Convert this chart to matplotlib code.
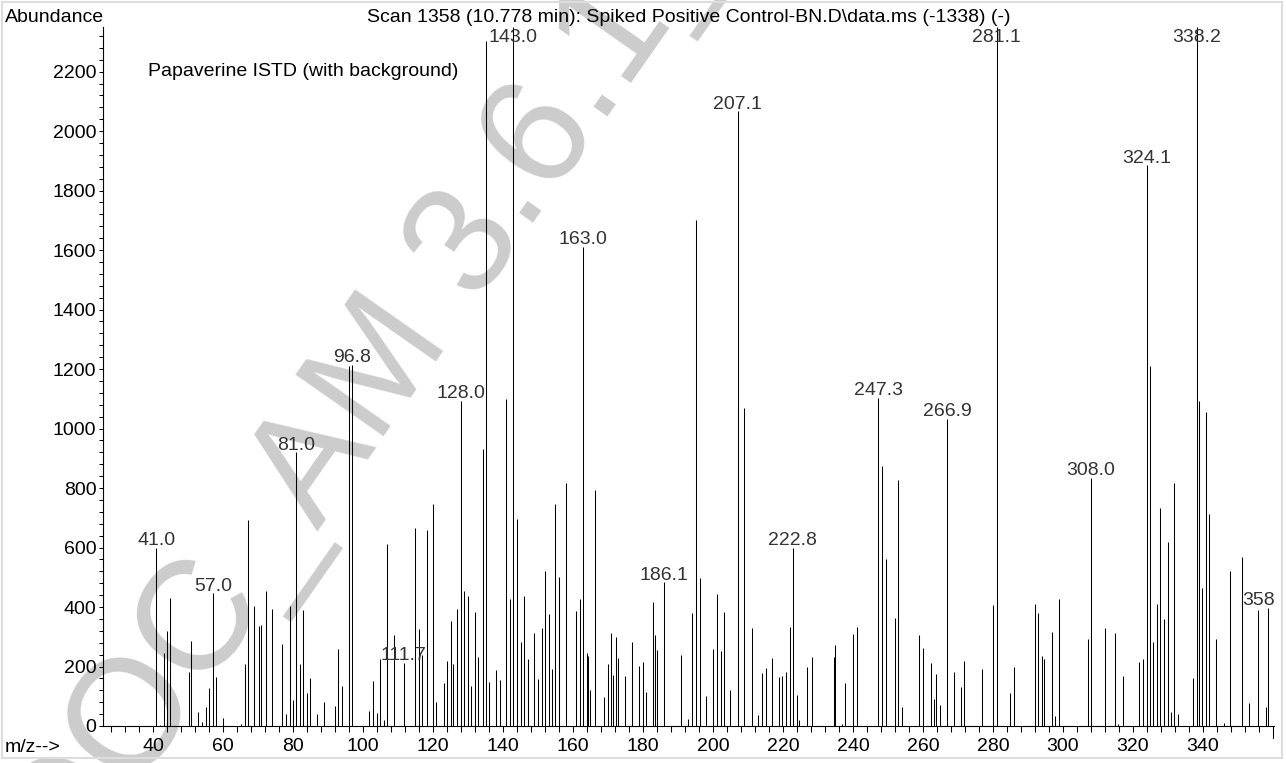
import matplotlib.pyplot as plt
from matplotlib.patches import Rectangle
from matplotlib.ticker import MultipleLocator

plt.rcParams['font.family'] = ['Liberation Sans', 'DejaVu Sans']

# spectrum (m/z, abundance)
mz = [41.0, 42.0, 43.1, 44.1, 44.9, 50.3, 51.0, 53.0, 54.0, 55.1, 56.1, 57.1, 58.1, 60.0,
      65.1, 66.2, 67.1, 69.0, 70.2, 71.0, 72.3, 74.1, 77.0, 77.9, 79.1, 80.0, 81.0, 82.0,
      82.9, 83.9, 85.0, 86.9, 88.9, 92.1, 93.0, 94.1, 96.1, 96.8, 101.8, 102.9, 103.9, 104.9,
      106.1, 107.0, 109.0, 111.7, 115.0, 115.9, 117.0, 118.2, 120.0, 121.0, 123.1, 124.0,
      125.2, 125.8, 126.8, 128.0, 129.0, 130.0, 131.0, 132.0, 133.0, 134.3, 135.1, 136.1,
      137.9, 139.2, 140.8, 141.9, 143.0, 143.9, 145.1, 146.0, 147.1, 148.9, 150.0, 151.1,
      151.9, 153.1, 154.0, 154.9, 155.9, 157.9, 161.0, 162.0, 163.0, 163.9, 164.4, 165.0,
      166.2, 169.0, 170.1, 170.8, 171.4, 172.2, 172.9, 174.9, 177.0, 179.0, 179.9, 181.0,
      182.9, 183.6, 184.1, 186.1, 190.9, 192.9, 193.9, 195.1, 196.3, 198.0, 199.9, 201.1,
      202.2, 203.1, 204.9, 207.1, 209.0, 211.1, 213.0, 214.1, 215.1, 217.0, 219.0, 219.8,
      221.0, 222.1, 222.8, 223.9, 224.7, 226.8, 228.2, 234.6, 235.0, 236.8, 237.7, 240.1,
      241.1, 247.3, 248.2, 249.6, 252.0, 252.9, 254.0, 259.0, 260.1, 262.4, 263.1, 263.7,
      265.0, 266.9, 268.9, 271.0, 271.8, 277.0, 279.9, 281.1, 285.0, 286.0, 292.1, 293.0,
      294.0, 294.5, 297.0, 297.8, 299.0, 307.1, 308.0, 312.0, 314.8, 315.8, 317.1, 321.8,
      322.8, 324.1, 324.9, 325.9, 326.9, 327.8, 328.8, 330.1, 330.9, 331.7, 333.0, 337.1,
      338.2, 338.8, 339.8, 340.9, 341.8, 343.9, 346.0, 347.7, 351.1, 353.2, 355.9, 358.0,
      358.7]
abundance = [600, 5, 244, 321, 430, 180, 285, 48, 13, 64, 128, 446, 165, 26,
             7, 210, 693, 405, 336, 340, 455, 393, 276, 40, 404, 87, 920, 210,
             390, 112, 160, 40, 80, 67, 258, 133, 1210, 1215, 50, 150, 44, 224,
             20, 613, 305, 213, 665, 325, 240, 659, 747, 80, 146, 220,
             353, 208, 395, 1094, 455, 438, 133, 384, 233, 932, 2302, 147,
             188, 154, 1100, 427, 2350, 696, 281, 438, 225, 312, 158, 328,
             521, 377, 192, 747, 501, 817, 388, 428, 1611, 247, 237, 121,
             793, 96, 208, 312, 171, 300, 230, 168, 284, 202, 216, 113,
             416, 306, 256, 483, 239, 22, 379, 1702, 497, 101, 260, 444,
             252, 384, 121, 2066, 1068, 328, 37, 177, 194, 230, 166, 168,
             180, 334, 598, 104, 20, 200, 233, 231, 272, 7, 146, 309,
             334, 1102, 875, 561, 362, 827, 63, 306, 261, 213, 90, 175,
             71, 1032, 183, 130, 220, 193, 407, 2350, 110, 197, 410, 379,
             235, 224, 317, 34, 427, 293, 835, 331, 312, 7, 168, 216,
             226, 1885, 1211, 283, 411, 734, 360, 619, 48, 818, 40, 160,
             2350, 1091, 463, 1055, 713, 291, 11, 521, 567, 78, 390, 63,
             396]

peak_labels = ["41.0", "57.0", "81.0", "96.8", "111.7", "128.0", "143.0", "163.0", "186.1",
               "207.1", "222.8", "247.3", "266.9", "281.1", "308.0", "324.1", "338.2"]
edge_label = "358"

x_min, x_max = 25.8, 360.2
y_max = 2350
FS = 14


def nearest_peak(x):
    i = min(range(len(mz)), key=lambda k: abs(mz[k] - x))
    return mz[i], abundance[i]


fig = plt.figure(figsize=(12.86, 7.63), dpi=100)
ax = fig.add_axes([0.0803, 0.0485, 0.9100, 0.9161])
ax.set_facecolor('none')

# watermark behind everything
fig.text(0.0544, -0.1599, 'DOC_AM 3.6.1_', rotation=55, rotation_mode='anchor',
         ha='left', va='baseline', fontsize=112, color='#cccccc', zorder=-1)

ax.vlines(mz, 0, abundance, color='black', lw=0.75)

for lab in peak_labels:
    x, y = nearest_peak(float(lab))
    ax.annotate(lab, (x, min(y, y_max - 60)), xytext=(0, 2), textcoords='offset points',
                ha='center', va='baseline', fontsize=FS, color='#333333')
ax.annotate(edge_label, (x_max, nearest_peak(358.7)[1]), xytext=(1, 2), textcoords='offset points',
            ha='right', va='baseline', fontsize=FS, color='#333333')

ax.set_xlim(x_min, x_max)
ax.set_ylim(0, y_max)
ax.spines['top'].set_visible(False)
ax.spines['right'].set_visible(False)
ax.spines['left'].set_linewidth(0.8)
ax.spines['bottom'].set_linewidth(0.8)

ax.set_xticks(list(range(40, 341, 20)))
ax.xaxis.set_minor_locator(MultipleLocator(4))
ax.set_yticks(list(range(0, 2201, 200)))
ax.yaxis.set_minor_locator(MultipleLocator(40))
ax.tick_params(axis='y', which='both', direction='out', length=3, width=0.75, pad=2, labelsize=FS)
ax.tick_params(axis='x', which='both', direction='out', length=4, width=0.75, pad=5, labelsize=FS)
# longer end tick at the right end of the m/z axis
ax.plot([360, 360], [0, -0.017], color='black', lw=0.75, clip_on=False,
        transform=ax.get_xaxis_transform())

fig.text(5 / 1286, 1 - 17 / 763, 'Abundance', ha='left', va='center', fontsize=FS)
fig.text(689 / 1286, 1 - 17 / 763,
         'Scan 1358 (10.778 min): Spiked Positive Control-BN.D\\data.ms (-1338) (-)',
         ha='center', va='center', fontsize=FS)
fig.text(5 / 1286, 1 - 748 / 763, 'm/z-->', ha='left', va='center', fontsize=FS)
ax.text(38.6, 2200, 'Papaverine ISTD (with background)', ha='left', va='center', fontsize=FS)

fig.add_artist(Rectangle((2 / 1286, 1 - 758 / 763), 1280 / 1286, 756 / 763,
                         transform=fig.transFigure, fill=False, ec='#dddddd', lw=1.5))

fig.savefig('out.png', dpi=100)
